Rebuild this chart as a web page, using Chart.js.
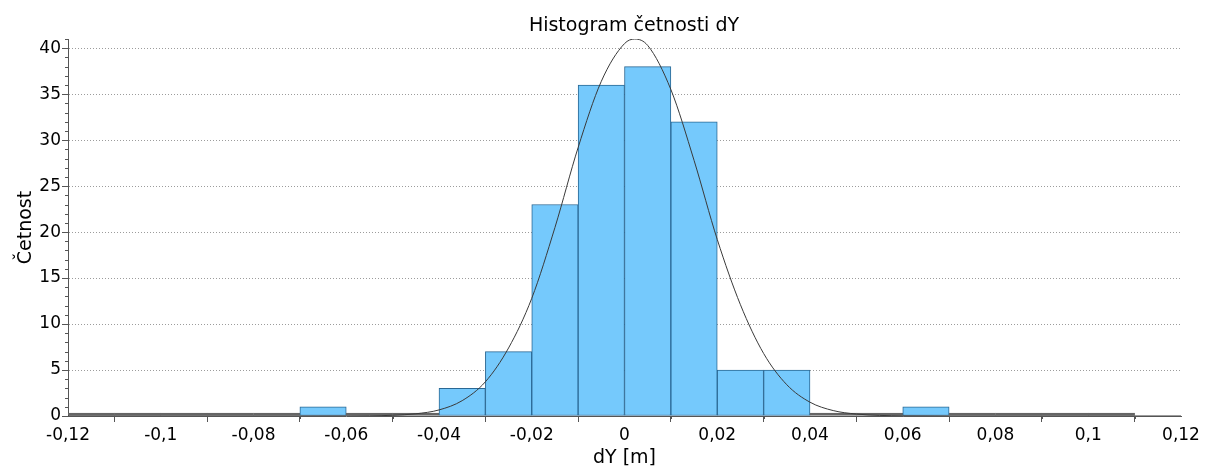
<!DOCTYPE html>
<html>
<head>
<meta charset="utf-8">
<script src="https://cdn.jsdelivr.net/npm/chart.js@4.4.0/dist/chart.umd.min.js"></script>
<style>
  html, body { margin: 0; padding: 0; background: #fff; }
</style>
</head>
<body>
<canvas id="histY" width="1213" height="469"></canvas>
<script>
// histogram bins (left edge) and counts, width 0.01 m
const binStart = [-0.12, -0.11, -0.10, -0.09, -0.08, -0.07, -0.06, -0.05, -0.04, -0.03, -0.02, -0.01,
                  0.00, 0.01, 0.02, 0.03, 0.04, 0.05, 0.06, 0.07, 0.08, 0.09, 0.10];
const binCounts = [0, 0, 0, 0, 0, 1, 0, 0, 3, 7, 23, 36, 38, 32, 5, 5, 0, 0, 1, 0, 0, 0, 0];
const binWidth = 0.01;

// normal curve
const curveX = [-0.12, -0.07, -0.06, -0.055, -0.05, -0.045, -0.04, -0.035, -0.03, -0.025,
                -0.02, -0.015, -0.01, -0.005, 0, 0.0022, 0.005, 0.01, 0.015, 0.02,
                0.025, 0.03, 0.035, 0.04, 0.045, 0.05, 0.055, 0.06, 0.07, 0.12];
const curveY = [0, 0, 0.005, 0.02, 0.075, 0.24, 0.66, 1.67, 3.72, 7.4,
                12.8, 20.5, 29.2, 36.4, 40.5, 41, 40.3, 35.5, 27.8, 19.2,
                12.1, 6.8, 3.4, 1.5, 0.59, 0.21, 0.065, 0.018, 0, 0];

const xTickValues = [-0.12, -0.10, -0.08, -0.06, -0.04, -0.02, 0, 0.02, 0.04, 0.06, 0.08, 0.10, 0.12];
const yTickValues = [0, 5, 10, 15, 20, 25, 30, 35, 40];

const axisColor = '#555555';
const tickFont = { family: 'DejaVu Sans', size: 17 };
const titleFont = { family: 'DejaVu Sans', size: 19 };

function fmt(v) {
  const r = Math.round(v * 100) / 100;
  return (r === 0 ? '0' : String(r)).replace('.', ',');
}

// title + minor ticks
const extras = {
  id: 'extras',
  afterDraw(chart) {
    const ctx = chart.ctx;
    const xs = chart.scales.x, ys = chart.scales.y;
    const area = chart.chartArea;
    ctx.save();
    ctx.strokeStyle = axisColor;
    ctx.lineWidth = 1;
    ctx.beginPath();
    for (let i = 0; i <= 41; i++) {
      if (i % 5 === 0) continue;
      const py = Math.round(ys.getPixelForValue(i)) + 0.5;
      ctx.moveTo(area.left - 3, py);
      ctx.lineTo(area.left, py);
    }
    for (let i = -11; i <= 11; i += 2) {
      const px = Math.round(xs.getPixelForValue(i / 100)) + 0.5;
      ctx.moveTo(px, area.bottom);
      ctx.lineTo(px, area.bottom + 3);
    }
    ctx.stroke();

    ctx.fillStyle = '#000';
    ctx.font = '19px "DejaVu Sans"';
    ctx.textAlign = 'center';
    ctx.textBaseline = 'alphabetic';
    ctx.fillText('Histogram četnosti dY', 634, 31);
    ctx.restore();
  }
};

const isZero = c => c.raw && c.raw.y === 0;

new Chart(document.getElementById('histY').getContext('2d'), {
  data: {
    datasets: [
      {
        type: 'line',
        data: curveX.map((x, i) => ({ x: x, y: curveY[i] })),
        borderColor: '#3a3a3a',
        borderWidth: 1,
        pointRadius: 0,
        cubicInterpolationMode: 'monotone',
        fill: false,
        order: 0
      },
      {
        type: 'bar',
        data: binStart.map((s, i) => ({ x: s + binWidth / 2, y: binCounts[i] })),
        backgroundColor: c => isZero(c) ? '#666666' : '#75c9fc',
        borderColor: c => isZero(c) ? '#666666' : '#2a6894',
        borderWidth: 1,
        borderSkipped: false,
        minBarLength: 3,
        barPercentage: 1,
        categoryPercentage: 1,
        order: 1
      }
    ]
  },
  options: {
    responsive: false,
    animation: false,
    layout: { padding: { top: 39, right: 32, left: 0, bottom: 0 } },
    plugins: { legend: { display: false }, tooltip: { enabled: false } },
    scales: {
      x: {
        type: 'linear',
        min: -0.12,
        max: 0.12,
        offset: false,
        afterBuildTicks: s => { s.ticks = xTickValues.map(v => ({ value: v })); },
        afterFit: s => { s.height = 53; },
        grid: { drawOnChartArea: false, tickLength: 6, tickColor: axisColor },
        border: { color: axisColor, width: 1 },
        ticks: {
          font: tickFont, color: '#000', padding: 3,
          autoSkip: false, maxRotation: 0,
          callback: v => fmt(v)
        },
        title: { display: true, text: 'dY [m]', font: titleFont, color: '#000', padding: { top: 0, bottom: 0 } }
      },
      y: {
        min: 0,
        max: 41,
        afterBuildTicks: s => { s.ticks = yTickValues.map(v => ({ value: v })); },
        afterFit: s => { s.width = 68; },
        grid: { color: '#9c9c9c', tickLength: 6, tickColor: axisColor },
        border: { color: axisColor, width: 1, dash: [1, 2] },
        ticks: { font: tickFont, color: '#000', padding: 1 },
        title: { display: true, text: 'Četnost', font: titleFont, color: '#000', padding: { top: 15, bottom: 0 } }
      }
    }
  },
  plugins: [extras]
});
</script>
</body>
</html>
